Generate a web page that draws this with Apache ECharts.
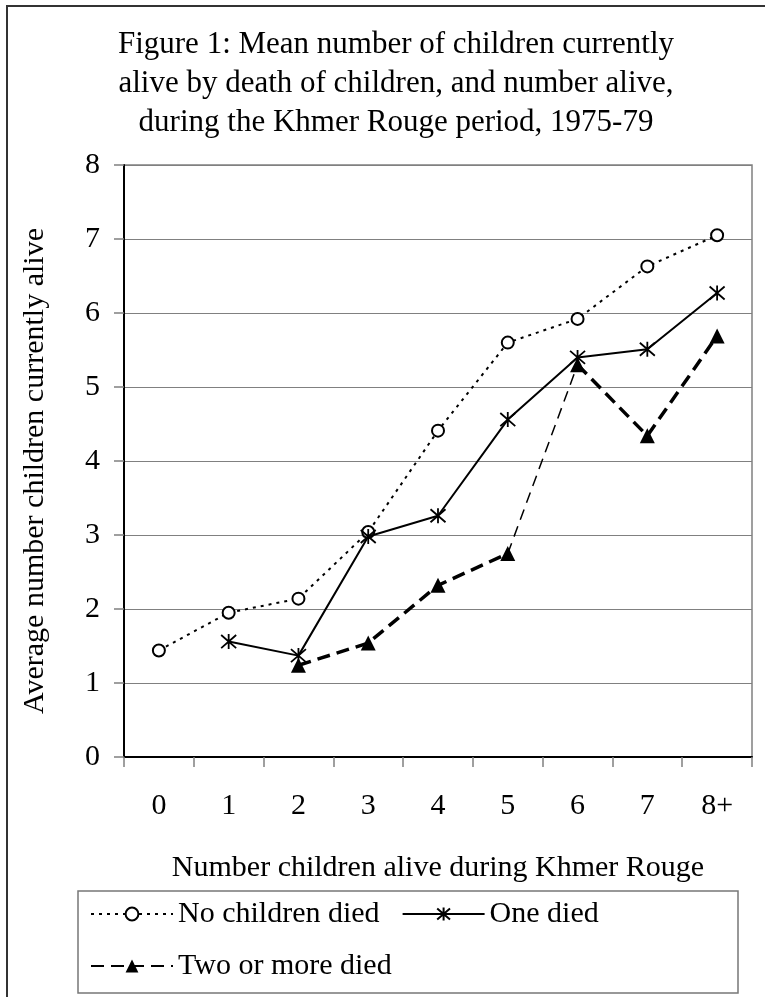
<!DOCTYPE html>
<html>
<head>
<meta charset="utf-8">
<script src="https://cdn.jsdelivr.net/npm/echarts@6/dist/echarts.min.js"></script>
<style>
  html, body { margin: 0; padding: 0; background: #fff; }
  #chart { width: 765px; height: 997px; }
</style>
</head>
<body>
<div id="chart"></div>
<script>
// categories on the x axis
const categories = ['0', '1', '2', '3', '4', '5', '6', '7', '8+'];

// mean number of children currently alive
const noneDied = [1.44, 1.95, 2.14, 3.04, 4.41, 5.60, 5.92, 6.63, 7.05];
const oneDied = [null, 1.56, 1.37, 2.98, 3.26, 4.56, 5.40, 5.51, 6.27];
const twoPlusDied = [null, null, 1.24, 1.54, 2.32, 2.75, 5.30, 4.34, 5.69];

const yTicks = [0, 8, 1]; // min, max, interval

const FONT = 'Liberation Serif';
const star = 'path://M0,-1L0,1M-0.87,-0.87L0.87,0.87M-0.87,0.87L0.87,-0.87';

// the 5 -> 6 segment of the last series is drawn thinner in the original
const part = (from, to) => twoPlusDied.map((v, i) => (i >= from && i <= to && v != null ? v : '-'));

const chart = echarts.init(document.getElementById('chart'));

chart.setOption({
  animation: false,
  backgroundColor: '#fff',
  title: {
    text: 'Figure 1: Mean number of children currently\nalive by death of children, and number alive,\nduring the Khmer Rouge period, 1975-79',
    left: 396,
    top: 25,
    textAlign: 'center',
    padding: 0,
    textStyle: { fontFamily: FONT, fontSize: 31, fontWeight: 'normal', color: '#000', lineHeight: 39 }
  },
  grid: { left: 124, right: 13, top: 165, bottom: 240, show: true, borderColor: '#808080', borderWidth: 1.5 },
  legend: {
    left: 90,
    top: 899,
    width: 640,
    padding: 0,
    itemWidth: 82,
    itemHeight: 16,
    itemGap: 22,
    data: ['No children died', 'One died', 'Two or more died'],
    textStyle: { fontFamily: FONT, fontSize: 30, color: '#000' }
  },
  xAxis: {
    type: 'category',
    data: categories,
    boundaryGap: true,
    name: 'Number children alive during Khmer Rouge',
    nameLocation: 'middle',
    nameGap: 96,
    nameTextStyle: { fontFamily: FONT, fontSize: 30, color: '#000' },
    axisLine: { lineStyle: { color: '#000', width: 2 } },
    axisTick: { show: true, length: 10, lineStyle: { color: '#808080', width: 1.5 } },
    axisLabel: { fontFamily: FONT, fontSize: 30, color: '#000', margin: 34 },
    splitLine: { show: false }
  },
  yAxis: {
    type: 'value',
    min: yTicks[0],
    max: yTicks[1],
    interval: yTicks[2],
    name: 'Average number children currently alive',
    nameLocation: 'middle',
    nameGap: 74,
    nameTextStyle: { fontFamily: FONT, fontSize: 30, color: '#000', padding: [0, 20, 0, 0] },
    axisLine: { show: true, lineStyle: { color: '#000', width: 2 } },
    axisTick: { show: true, length: 10, lineStyle: { color: '#808080', width: 1.5 } },
    axisLabel: { fontFamily: FONT, fontSize: 30, color: '#000', margin: 24 },
    splitLine: { lineStyle: { color: '#808080', width: 1 } }
  },
  series: [
    {
      name: 'No children died',
      type: 'line',
      data: noneDied,
      symbol: 'emptyCircle',
      symbolSize: 12,
      itemStyle: { color: '#000', borderColor: '#000', borderWidth: 1.5 },
      lineStyle: { color: '#000', width: 2, type: [3, 5] },
      z: 3
    },
    {
      name: 'One died',
      type: 'line',
      data: oneDied,
      symbol: star,
      symbolSize: 15,
      itemStyle: { color: '#000', borderColor: '#000', borderWidth: 1.8 },
      lineStyle: { color: '#000', width: 2 },
      z: 4
    },
    {
      name: 'Two or more died',
      type: 'line',
      data: part(2, 5),
      symbol: 'triangle',
      symbolSize: 15,
      itemStyle: { color: '#000' },
      lineStyle: { color: '#000', width: 3.5, type: [13, 7] },
      z: 2
    },
    {
      name: 'Two or more died',
      type: 'line',
      data: part(6, 8),
      symbol: 'triangle',
      symbolSize: 15,
      itemStyle: { color: '#000' },
      lineStyle: { color: '#000', width: 3.5, type: [13, 7] },
      z: 2
    },
    {
      name: 'Two or more died',
      type: 'line',
      data: part(5, 6),
      symbol: 'none',
      lineStyle: { color: '#000', width: 1.5, type: [11, 7] },
      z: 1
    }
  ],
  graphic: [
    {
      type: 'rect',
      silent: true,
      shape: { x: 7, y: 6, width: 820, height: 1050 },
      style: { fill: 'none', stroke: '#333', lineWidth: 2 }
    },
    {
      type: 'rect',
      silent: true,
      shape: { x: 78, y: 891, width: 660, height: 102 },
      style: { fill: 'none', stroke: '#777', lineWidth: 1.5 }
    }
  ]
});
</script>
</body>
</html>
